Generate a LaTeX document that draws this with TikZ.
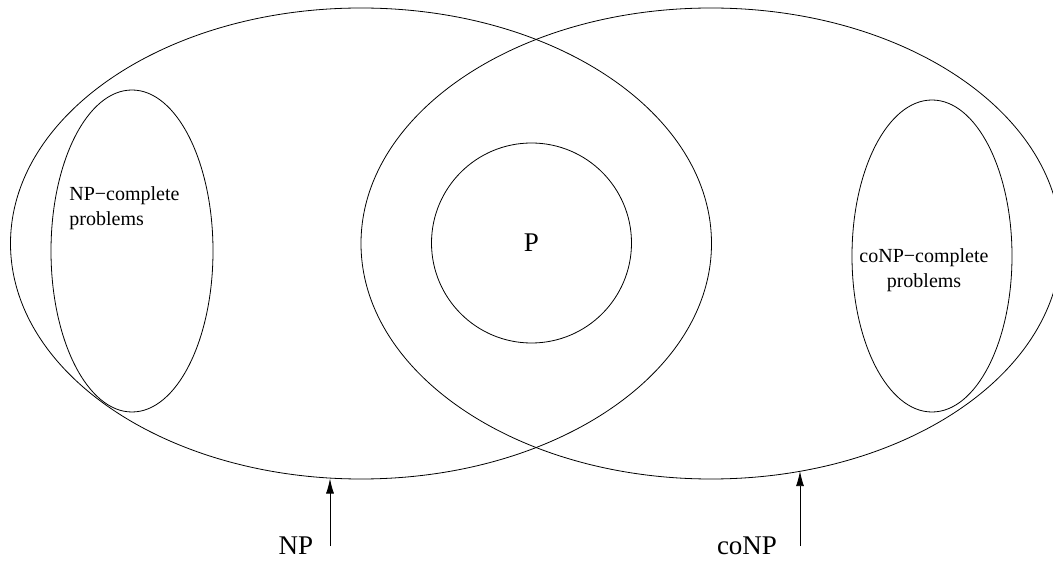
\documentclass[tikz,border=0pt]{standalone}
\usepackage{fontspec}
\setmainfont{Liberation Serif}
\usetikzlibrary{shapes.geometric, arrows.meta}

\begin{document}
\begin{tikzpicture}[x=1pt, y=-1pt, >={Latex[length=15pt, width=8pt]}, line width=0.8pt,
    cls/.style={ellipse, draw, inner sep=0pt},
    big/.style={font=\fontsize{27}{30}\selectfont},
    small/.style={font=\fontsize{20}{25}\selectfont, inner sep=0pt}]
    \useasboundingbox (0,0) rectangle (1053,561);
    \node[cls, minimum width=701pt, minimum height=471pt] (NP) at (361,243.5) {};
    \node[cls, minimum width=700pt, minimum height=471pt] (coNP) at (711,243.5) {};
    \node[cls, minimum width=162pt, minimum height=322pt] (NPC) at (132,251) {};
    \node[cls, minimum width=160pt, minimum height=312pt] (coNPC) at (932,256) {};
    \node[circle, draw, minimum size=200pt, inner sep=0pt, big] (P) at (531.5,243) {P};
    \node[small, align=left, anchor=west] (NPCtext) at (69,208) {NP−complete\\problems};
    \node[small, align=center] (coNPCtext) at (924,270) {coNP−complete\\problems};
    \node[big] (NPtext) at (296,546) {NP};
    \node[big] (coNPtext) at (747,546) {coNP};
    \coordinate (NPfoot) at (330,546);
    \coordinate (coNPfoot) at (800,546);

    \path[->] (NPfoot) edge (NPfoot |- NP.-97.5);
    \path[->] (coNPfoot) edge (coNPfoot |- coNP.-68.6);
\end{tikzpicture}
\end{document}
